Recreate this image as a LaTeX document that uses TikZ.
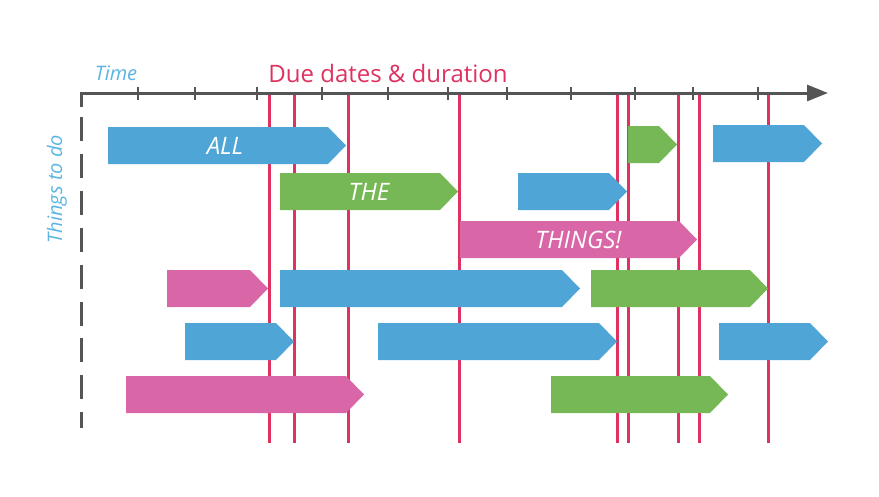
\documentclass[tikz,border=0pt]{standalone}
\usepackage{fontspec}
\setmainfont{Open Sans}
\usetikzlibrary{arrows.meta}
\definecolor{taskblue}{HTML}{4EA5D6}
\definecolor{taskgreen}{HTML}{77B856}
\definecolor{taskpink}{HTML}{D966A6}
\definecolor{duered}{HTML}{DF3260}
\definecolor{axisgray}{HTML}{555555}
\definecolor{labelblue}{HTML}{5AB4E4}
\tikzset{
    due/.style={duered, line width=3pt},
    tick/.style={axisgray, line width=2.5pt},
    axisline/.style={axisgray, line width=3pt},
    lbl/.style={text=white, font=\fontsize{24}{27}\selectfont\itshape},
}
% #1 name, #2 colour, #3 start, #4 tip, #5 top of the row
\newcommand{\todo}[5]{%
    \fill[#2] (#3,#5) -- (#4-18,#5) -- (#4,#5+18.5) -- (#4-18,#5+37) -- (#3,#5+37) -- cycle;
    \coordinate (#1) at ({(#3+#4)/2},#5+18.5);}
\begin{document}
\begin{tikzpicture}[x=1pt,y=-1pt]
    \useasboundingbox (0,0) rectangle (879,496);
    \node[labelblue, anchor=base, font=\fontsize{20}{23}\selectfont\itshape] (time) at (116,80) {Time};
    \node[duered, anchor=base, font=\fontsize{24}{27}\selectfont] (due) at (388,82) {Due dates \& duration};
    \node[labelblue, rotate=90, font=\fontsize{20}{23}\selectfont\itshape] (things) at (57,189) {Things to do};
    % due dates
    \foreach \x in {269,294,348,459,617,628,678,699,768}
        \draw[due] (\x,93) -- (\x,443);
    % axes
    \foreach \x in {138,195,257,322,388,448,507,571,635,693,758}
        \draw[tick] (\x,87) -- (\x,100);
    \draw[axisline, -{Triangle[length=21pt,width=16pt]}] (81,107) -- (81,93) -- (828,93);
    \draw[axisline, dash pattern=on 24pt off 12.9pt] (81,117) -- (81,428);
    % things to do
    \todo{a1}{taskblue}{108}{346}{127}
    \todo{a2}{taskgreen}{628}{677}{126}
    \todo{a3}{taskblue}{713}{822}{125}
    \todo{b1}{taskgreen}{280}{458}{173}
    \todo{b2}{taskblue}{518}{627}{173}
    \todo{c1}{taskpink}{460}{697}{221}
    \todo{d1}{taskpink}{167}{268}{270}
    \todo{d2}{taskblue}{280}{580}{270}
    \todo{d3}{taskgreen}{591}{768}{270}
    \todo{e1}{taskblue}{185}{294}{323}
    \todo{e2}{taskblue}{378}{617}{323}
    \todo{e3}{taskblue}{719}{828}{323}
    \todo{f1}{taskpink}{126}{364}{376}
    \todo{f2}{taskgreen}{551}{728}{376}
    \node[lbl] (all) at ([xshift=-2pt]a1) {ALL};
    \node[lbl] (the) at (b1) {THE};
    \node[lbl] (thethings) at (c1) {THINGS!};
\end{tikzpicture}
\end{document}
